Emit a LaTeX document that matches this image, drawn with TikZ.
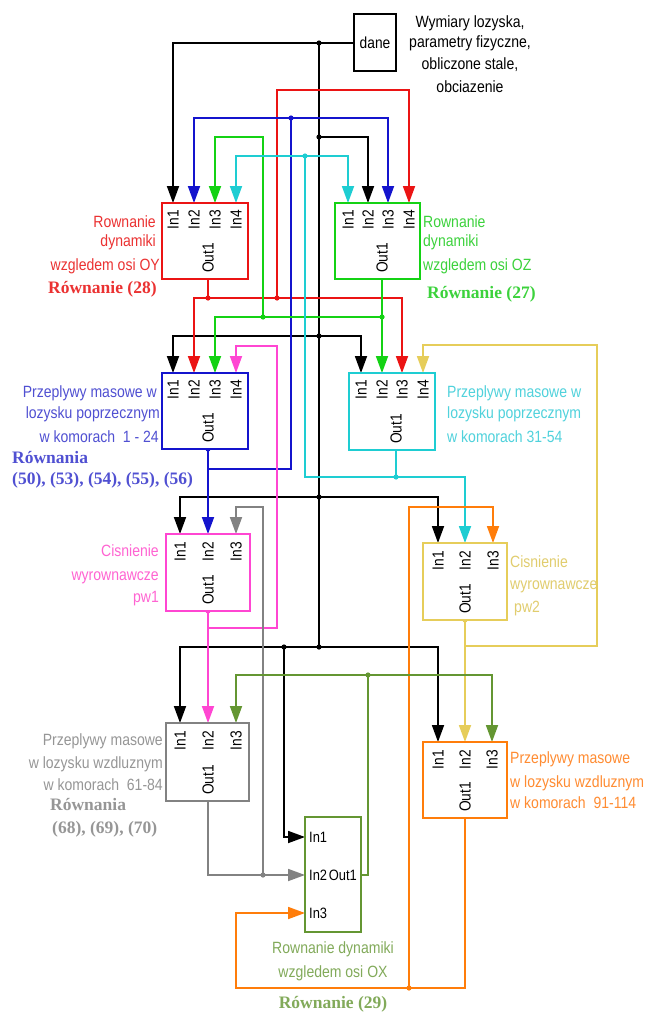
\documentclass[tikz,border=0pt]{standalone}
\usepackage{fontspec}
\setmainfont[FakeStretch=0.86]{Liberation Sans}
\newfontfamily\serfont{Liberation Serif}
\usetikzlibrary{arrows.meta}
\definecolor{cred}{RGB}{235,20,20}
\definecolor{cblue}{RGB}{20,20,205}
\definecolor{cgreen}{RGB}{20,210,20}
\definecolor{ccyan}{RGB}{30,205,210}
\definecolor{cpink}{RGB}{255,70,210}
\definecolor{cyel}{RGB}{230,205,90}
\definecolor{corange}{RGB}{255,125,10}
\definecolor{colive}{RGB}{100,150,50}
\definecolor{cgray}{RGB}{130,130,130}
\definecolor{tred}{RGB}{235,50,50}
\definecolor{tblue}{RGB}{80,80,210}
\definecolor{tgreen}{RGB}{60,210,60}
\definecolor{tcyan}{RGB}{80,210,220}
\definecolor{tpink}{RGB}{255,100,210}
\definecolor{tyel}{RGB}{225,205,110}
\definecolor{tgray}{RGB}{150,150,150}
\definecolor{torange}{RGB}{255,140,50}
\definecolor{tolive}{RGB}{130,170,90}
\tikzset{
  blk/.style={draw, line width=2.2pt, fill=white, inner sep=0pt},
  wire/.style={line width=1.8pt},
  arr/.style={wire, -{Triangle[length=17pt,width=12pt]}},
  inlab/.style={font=\fontsize{16}{18}\selectfont, rotate=90, anchor=east, inner sep=0pt},
  outlab/.style={font=\fontsize{16}{18}\selectfont, rotate=90, anchor=west, inner sep=0pt},
  hlab/.style={font=\fontsize{15}{17}\selectfont, inner sep=0pt},
  txt/.style={font=\fontsize{16.3}{18}\selectfont, inner sep=0pt},
  rlab/.style={txt, anchor=base east},
  llab/.style={txt, anchor=base west},
  eqlab/.style={font=\serfont\bfseries\fontsize{17.5}{20}\selectfont, inner sep=0pt},
}
\begin{document}
\begin{tikzpicture}[x=1pt,y=-1pt]
\useasboundingbox (0,0) rectangle (648,1014);
\fill[white] (0,0) rectangle (648,1014);
% ports
\coordinate (D) at (354,43);
\coordinate (R1) at (173,203); \coordinate (R2) at (194,203); \coordinate (R3) at (215,203); \coordinate (R4) at (236,203); \coordinate (Ro) at (208,279);
\coordinate (G1) at (348,203); \coordinate (G2) at (368,203); \coordinate (G3) at (388,203); \coordinate (G4) at (409,203); \coordinate (Go) at (382,279);
\coordinate (B1) at (173,373); \coordinate (B2) at (194,373); \coordinate (B3) at (215,373); \coordinate (B4) at (236,373); \coordinate (Bo) at (208,449);
\coordinate (C1) at (361,373); \coordinate (C2) at (382,373); \coordinate (C3) at (402,373); \coordinate (C4) at (423,373); \coordinate (Co) at (396,450);
\coordinate (P1) at (180,534); \coordinate (P2) at (208,534); \coordinate (P3) at (236,534); \coordinate (Po) at (208,611);
\coordinate (Y1) at (438,543); \coordinate (Y2) at (465,543); \coordinate (Y3) at (493,543); \coordinate (Yo) at (465,620);
\coordinate (K1) at (180,723); \coordinate (K2) at (208,723); \coordinate (K3) at (236,723); \coordinate (Ko) at (208,801);
\coordinate (O1) at (438,742); \coordinate (O2) at (465,742); \coordinate (O3) at (492,742); \coordinate (Oo) at (465,818);
\coordinate (X1) at (305,837); \coordinate (X2) at (305,875); \coordinate (X3) at (305,913); \coordinate (Xo) at (361,875);
% junctions
\coordinate (j0) at (319,43); \coordinate (jb1) at (319,137); \coordinate (jb2) at (319,336);
\coordinate (jb3) at (319,497); \coordinate (jb4) at (319,647); \coordinate (jb5) at (284,647);
\coordinate (rj1) at (208,298); \coordinate (rj2) at (277,298);
\coordinate (bj1) at (208,469); \coordinate (bj2) at (291,118);
\coordinate (gj1) at (382,317); \coordinate (gj2) at (263,317);
\coordinate (cj1) at (396,477); \coordinate (cj2) at (305,156);
\coordinate (pj1) at (208,628); \coordinate (kj1) at (263,875);
\coordinate (yj1) at (465,646); \coordinate (oj1) at (409,988);
\coordinate (xj1) at (368,675);
% black
\draw[arr] (D) -| (R1);
\draw[wire] (j0) -- (jb4);
\draw[arr] (jb1) -| (G2);
\draw[arr] (jb2) -| (B1);
\draw[arr] (jb2) -| (C1);
\draw[arr] (jb3) -| (P1);
\draw[arr] (jb3) -| (Y1);
\draw[arr] (jb4) -| (K1);
\draw[arr] (jb4) -| (O1);
\draw[arr] (jb5) |- (X1);
\foreach \p in {j0,jb1,jb2,jb3,jb4,jb5} \fill (\p) circle (2.6);
% red
\draw[wire,cred] (Ro) -- (rj1);
\draw[arr,cred] (rj1) -| (B2);
\draw[arr,cred] (rj1) -| (C3);
\draw[arr,cred] (rj2) -- (277,90) -| (G4);
\fill[cred] (rj1) circle (2.6); \fill[cred] (rj2) circle (2.6);
% blue
\draw[arr,cblue] (Bo) -- (P2);
\draw[wire,cblue] (bj1) -| (bj2);
\draw[arr,cblue] (bj2) -| (R2);
\draw[arr,cblue] (bj2) -| (G3);
\fill[cblue] (Bo) circle (2.6); \fill[cblue] (bj2) circle (2.6);
% green
\draw[arr,cgreen] (Go) -- (C2);
\draw[arr,cgreen] (gj1) -| (B3);
\draw[arr,cgreen] (gj2) -- (263,137) -| (R3);
\fill[cgreen] (gj1) circle (2.6); \fill[cgreen] (gj2) circle (2.6);
% cyan
\draw[wire,ccyan] (Co) -- (cj1);
\draw[arr,ccyan] (cj1) -| (Y2);
\draw[wire,ccyan] (cj1) -| (cj2);
\draw[arr,ccyan] (cj2) -| (R4);
\draw[arr,ccyan] (cj2) -| (G1);
\fill[ccyan] (cj1) circle (2.6); \fill[ccyan] (cj2) circle (2.6);
% pink
\draw[arr,cpink] (Po) -- (K2);
\draw[arr,cpink] (pj1) -- (277,628) -- (277,346) -| (B4);
\fill[cpink] (Po) circle (2.6);
% gray
\draw[arr,cgray] (Ko) |- (X2);
\draw[arr,cgray] (kj1) -- (263,507) -| (P3);
\fill[cgray] (kj1) circle (2.6);
% yellow
\draw[arr,cyel] (Yo) -- (O2);
\draw[arr,cyel] (yj1) -- (597,646) -- (597,345) -| (C4);
\fill[cyel] (Yo) circle (2.6);
% orange
\draw[arr,corange] (Oo) -- (465,988) -- (236,988) |- (X3);
\draw[arr,corange] (oj1) -- (409,507) -| (Y3);
\fill[corange] (oj1) circle (2.6);
% olive
\draw[wire,colive] (Xo) -| (xj1);
\draw[arr,colive] (xj1) -| (K3);
\draw[arr,colive] (xj1) -| (O3);
\fill[colive] (xj1) circle (2.6);
% blocks
\node[blk, draw=black, minimum width=42, minimum height=57, font=\fontsize{16}{18}\selectfont] (dane) at (375,42.5) {dane};
\node[blk, draw=cred, minimum width=86, minimum height=76] (R) at (205,241) {};
\node[blk, draw=cgreen, minimum width=85, minimum height=76] (G) at (377.5,241) {};
\node[blk, draw=cblue, minimum width=86, minimum height=76] (B) at (205,411) {};
\node[blk, draw=ccyan, minimum width=86, minimum height=77] (C) at (392,411.5) {};
\node[blk, draw=cpink, minimum width=84, minimum height=77] (P) at (208,572.5) {};
\node[blk, draw=cyel, minimum width=84, minimum height=77] (Y) at (465,581.5) {};
\node[blk, draw=cgray, minimum width=83, minimum height=78] (K) at (207.5,762) {};
\node[blk, draw=corange, minimum width=84, minimum height=76] (O) at (465,780) {};
\node[blk, draw=colive, minimum width=56, minimum height=115] (X) at (333,874.5) {};
% port labels
\node[inlab] (R1l) at (173,210) {In1}; \node[inlab] (R2l) at (194,210) {In2};
\node[inlab] (R3l) at (215,210) {In3}; \node[inlab] (R4l) at (236,210) {In4};
\node[outlab] (Rol) at (208,273) {Out1};
\node[inlab] (G1l) at (348,210) {In1}; \node[inlab] (G2l) at (368,210) {In2};
\node[inlab] (G3l) at (388,210) {In3}; \node[inlab] (G4l) at (409,210) {In4};
\node[outlab] (Gol) at (382,273) {Out1};
\node[inlab] (B1l) at (173,380) {In1}; \node[inlab] (B2l) at (194,380) {In2};
\node[inlab] (B3l) at (215,380) {In3}; \node[inlab] (B4l) at (236,380) {In4};
\node[outlab] (Bol) at (208,443) {Out1};
\node[inlab] (C1l) at (361,380) {In1}; \node[inlab] (C2l) at (382,380) {In2};
\node[inlab] (C3l) at (402,380) {In3}; \node[inlab] (C4l) at (423,380) {In4};
\node[outlab] (Col) at (396,444) {Out1};
\node[inlab] (P1l) at (180,542) {In1}; \node[inlab] (P2l) at (208,542) {In2};
\node[inlab] (P3l) at (236,542) {In3}; \node[outlab] (Pol) at (208,605) {Out1};
\node[inlab] (Y1l) at (438,551) {In1}; \node[inlab] (Y2l) at (465,551) {In2};
\node[inlab] (Y3l) at (493,551) {In3}; \node[outlab] (Yol) at (465,614) {Out1};
\node[inlab] (K1l) at (180,731) {In1}; \node[inlab] (K2l) at (208,731) {In2};
\node[inlab] (K3l) at (236,731) {In3}; \node[outlab] (Kol) at (208,795) {Out1};
\node[inlab] (O1l) at (438,750) {In1}; \node[inlab] (O2l) at (465,750) {In2};
\node[inlab] (O3l) at (492,750) {In3}; \node[outlab] (Ool) at (465,812) {Out1};
\node[hlab, anchor=base west] (X1l) at (309,842) {In1};
\node[hlab, anchor=base west] (X2l) at (309,880) {In2};
\node[hlab, anchor=base east] (Xol) at (357,880) {Out1};
\node[hlab, anchor=base west] (X3l) at (309,918) {In3};
% descriptions
\node[txt, anchor=base] (d1) at (470,28) {Wymiary lozyska,};
\node[txt, anchor=base] (d2) at (470,48) {parametry fizyczne,};
\node[txt, anchor=base] (d3) at (470,70) {obliczone stale,};
\node[txt, anchor=base] (d4) at (470,93) {obciazenie};
\node[rlab, text=tred] (rl1) at (156,227) {Rownanie};
\node[rlab, text=tred] (rl2) at (156,246) {dynamiki};
\node[rlab, text=tred] (rl3) at (160,270) {wzgledem osi OY};
\node[eqlab, text=tred, anchor=base west] (rl4) at (48,293) {Równanie (28)};
\node[llab, text=tgreen] (gl1) at (423,227) {Rownanie};
\node[llab, text=tgreen] (gl2) at (423,246) {dynamiki};
\node[llab, text=tgreen] (gl3) at (423,270) {wzgledem osi OZ};
\node[eqlab, text=tgreen, anchor=base west] (gl4) at (427,298) {Równanie (27)};
\node[rlab, text=tblue] (bl1) at (157,397) {Przeplywy masowe w};
\node[rlab, text=tblue] (bl2) at (160,418) {lozysku poprzecznym};
\node[rlab, text=tblue] (bl3) at (159,442) {w komorach~~1 - 24};
\node[eqlab, text=tblue, anchor=base west] (bl4) at (12,463) {Równania};
\node[eqlab, text=tblue, anchor=base west] (bl5) at (12,484) {(50), (53), (54), (55), (56)};
\node[llab, text=tcyan] (cl1) at (447,397) {Przeplywy masowe w};
\node[llab, text=tcyan] (cl2) at (447,418) {lozysku poprzecznym};
\node[llab, text=tcyan] (cl3) at (447,442) {w komorach 31-54};
\node[rlab, text=tpink] (pl1) at (159,556) {Cisnienie};
\node[rlab, text=tpink] (pl2) at (159,580) {wyrownawcze};
\node[rlab, text=tpink] (pl3) at (159,602) {pw1};
\node[llab, text=tyel] (yl1) at (510,567) {Cisnienie};
\node[llab, text=tyel] (yl2) at (510,589) {wyrownawcze};
\node[llab, text=tyel] (yl3) at (514,612) {pw2};
\node[rlab, text=tgray] (kl1) at (163,745) {Przeplywy masowe};
\node[rlab, text=tgray] (kl2) at (163,768) {w lozysku wzdluznym};
\node[rlab, text=tgray] (kl3) at (163,790) {w komorach~~61-84};
\node[eqlab, text=tgray, anchor=base west] (kl4) at (50,810) {Równania};
\node[eqlab, text=tgray, anchor=base west] (kl5) at (52,833) {(68), (69), (70)};
\node[llab, text=torange] (ol1) at (510,763) {Przeplywy masowe};
\node[llab, text=torange] (ol2) at (510,787) {w lozysku wzdluznym};
\node[llab, text=torange] (ol3) at (510,808) {w komorach~~91-114};
\node[txt, anchor=base, text=tolive] (xl1) at (333,953) {Rownanie dynamiki};
\node[txt, anchor=base, text=tolive] (xl2) at (333,977) {wzgledem osi OX};
\node[eqlab, anchor=base, text=tolive] (xl3) at (333,1008) {Równanie (29)};
\end{tikzpicture}
\end{document}
